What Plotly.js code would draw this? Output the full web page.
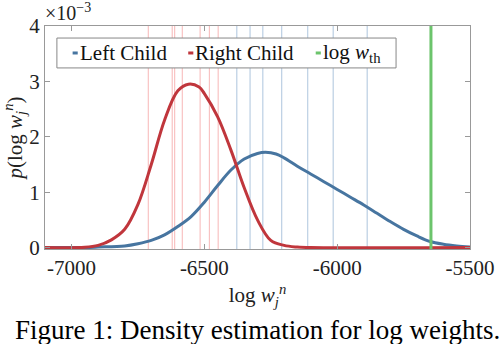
<!DOCTYPE html>
<html>
<head>
<meta charset="utf-8">
<script src="https://cdn.plot.ly/plotly-3.0.1.min.js"></script>
<style>
  body { margin: 0; background: #fff; }
  #chart { width: 500px; height: 344px; }
</style>
</head>
<body>
<div id="chart"></div>
<script>
// densidade estimada (y em unidades de 1e-3)
const leftX = [-7100, -6950, -6900, -6800, -6750, -6700, -6650, -6600, -6550, -6500, -6450, -6400,
    -6350, -6300, -6270, -6230, -6200, -6150, -6100, -6050, -6000, -5950, -5900, -5850, -5800,
    -5750, -5700, -5650, -5600, -5550, -5500];
const leftY = [0, 0.003, 0.01, 0.03, 0.07, 0.13, 0.23, 0.38, 0.56, 0.82, 1.12, 1.40,
    1.60, 1.70, 1.72, 1.69, 1.62, 1.47, 1.33, 1.19, 1.05, 0.91, 0.77, 0.62, 0.47,
    0.33, 0.21, 0.11, 0.06, 0.03, 0.01];

const rightX = [-7100, -6950, -6900, -6850, -6800, -6750, -6700, -6650, -6600, -6560,
    -6520, -6500, -6450, -6400, -6350, -6300, -6250, -6200, -6150, -6100, -5500];
const rightY = [0, 0.005, 0.04, 0.14, 0.33, 0.78, 1.5, 2.3, 2.83, 2.95,
    2.9, 2.78, 2.36, 1.76, 1.08, 0.5, 0.13, 0.04, 0.01, 0, 0];

// amostras de cada filho (linhas verticais)
const rightSamples = [-6711, -6621, -6612, -6583, -6516, -6481, -6448];
const leftSamples = [-6378, -6328, -6280, -6209, -6111, -6015, -5887];
const threshold = -5647;

const xTicks = [-7000, -6500, -6000, -5500];
const xTickText = ['-7000', '-6500', '-6000', '-5500'];
const yTicks = [0, 1, 2, 3, 4];
const yTickText = ['0', '1', '2', '3', '4'];

const blue = '#4775a0';
const red = '#c0363c';
const green = '#6cc46c';
const serif = '"Liberation Serif", "DejaVu Serif", serif';

const traces = [
    {
        x: leftX, y: leftY.map(v => v * 1e-3), type: 'scatter', mode: 'lines',
        line: { color: blue, width: 3, shape: 'spline', smoothing: 1 },
        showlegend: false
    },
    {
        x: rightX, y: rightY.map(v => v * 1e-3), type: 'scatter', mode: 'lines',
        line: { color: red, width: 3, shape: 'spline', smoothing: 1 },
        showlegend: false
    }
];

const shapes = [];
rightSamples.forEach(v => shapes.push({
    type: 'line', xref: 'x', yref: 'paper', x0: v, x1: v, y0: 0, y1: 1,
    line: { color: 'rgba(240,120,120,0.45)', width: 1.2 }, layer: 'below'
}));
leftSamples.forEach(v => shapes.push({
    type: 'line', xref: 'x', yref: 'paper', x0: v, x1: v, y0: 0, y1: 1,
    line: { color: 'rgba(120,160,200,0.5)', width: 1.2 }, layer: 'below'
}));
shapes.push({
    type: 'line', xref: 'x', yref: 'paper', x0: threshold, x1: threshold, y0: 0, y1: 1,
    line: { color: green, width: 3 }
});

// legenda feita a mao (simbolos curtos como no original)
shapes.push({
    type: 'rect', xref: 'paper', yref: 'paper', x0: 0.028, x1: 0.826, y0: 0.812, y1: 0.946,
    line: { color: '#888', width: 1 }, fillcolor: 'white'
});
const legendItems = [
    { text: 'Left Child', color: blue, x: 0.065 },
    { text: 'Right Child', color: red, x: 0.337 },
    { text: 'log <i>w</i><sub>th</sub>', color: green, x: 0.637 }
];
const annotations = [];
legendItems.forEach(it => {
    shapes.push({
        type: 'line', xref: 'paper', yref: 'paper', x0: it.x, x1: it.x + 0.012, y0: 0.879, y1: 0.879,
        line: { color: it.color, width: 3 }
    });
    annotations.push({
        xref: 'paper', yref: 'paper', x: it.x + 0.012, y: 0.879, xanchor: 'left', yanchor: 'middle',
        text: it.text, showarrow: false, font: { family: serif, size: 21, color: '#111' }
    });
});

annotations.push({
    xref: 'paper', yref: 'paper', x: -0.005, y: 1.0, xanchor: 'left', yanchor: 'bottom', yshift: 0,
    text: '×10<sup>−3</sup>', showarrow: false, font: { family: serif, size: 20, color: '#222' }
});
annotations.push({
    xref: 'paper', yref: 'paper', x: 0.5, y: 0, xanchor: 'center', yanchor: 'top', yshift: -64,
    text: 'Figure 1: Density estimation for log weights.', showarrow: false,
    font: { family: serif, size: 27, color: '#000' }
});

const layout = {
    width: 500, height: 344,
    margin: { l: 45, r: 30, t: 26, b: 95 },
    paper_bgcolor: 'white', plot_bgcolor: 'white',
    showlegend: false,
    xaxis: {
        range: [-7100, -5500],
        tickvals: xTicks, ticktext: xTickText,
        ticks: 'inside', ticklen: 5, tickcolor: '#999',
        showline: true, linecolor: '#999', mirror: 'ticks',
        showgrid: false, zeroline: false,
        tickfont: { family: serif, size: 21, color: '#222' },
        title: { text: 'log <i>w</i><sub><i>j</i></sub><sup><i>n</i></sup>', font: { family: serif, size: 21, color: '#222' }, standoff: 8 }
    },
    yaxis: {
        range: [-0.000025, 0.004],
        tickvals: yTicks.map(v => v * 1e-3), ticktext: yTickText,
        ticks: 'inside', ticklen: 5, tickcolor: '#999',
        showline: true, linecolor: '#999', mirror: 'ticks',
        showgrid: false, zeroline: false,
        tickfont: { family: serif, size: 21, color: '#222' },
        title: { text: '<i>p</i>(log <i>w</i><sub><i>j</i></sub><sup><i>n</i></sup>)', font: { family: serif, size: 21, color: '#222' }, standoff: 2 }
    },
    shapes: shapes,
    annotations: annotations
};

Plotly.newPlot('chart', traces, layout, { displayModeBar: false, staticPlot: true });
</script>
</body>
</html>
